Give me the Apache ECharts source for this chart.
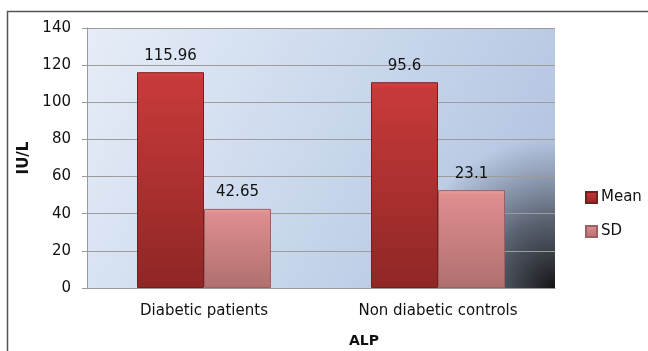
<!DOCTYPE html>
<html>
<head>
<meta charset="utf-8">
<script src="https://cdn.jsdelivr.net/npm/echarts@6/dist/echarts.min.js"></script>
<style>
html,body{margin:0;padding:0;background:#fff;}
#chart{width:648px;height:351px;}
</style>
</head>
<body>
<div id="chart"></div>
<script>
var categories = ['Diabetic patients', 'Non diabetic controls'];
var seriesNames = ['Mean', 'SD'];
var meanValues = [116.2, 110.8];
var sdValues = [42.6, 52.7];
var meanLabels = ['115.96', '95.6'];
var sdLabels = ['42.65', '23.1'];
var yTickMin = 0, yTickMax = 140, yTickStep = 20;
var yAxisTitle = 'IU/L';
var xAxisTitle = 'ALP';

var chart = echarts.init(document.getElementById('chart'), null, {renderer: 'canvas'});
var FONT = 'DejaVu Sans';
var gridL = 87, gridT = 28, gridR = 93, gridB = 63;
var W = 648, H = 351;

function labelFmt(arr) {
  return function (p) { return arr[p.dataIndex]; };
}

var option = {
  animation: false,
  textStyle: {fontFamily: FONT},
  grid: {left: gridL, top: gridT, right: gridR, bottom: gridB, containLabel: false},
  graphic: [
    {
      type: 'rect', z: -20,
      shape: {x: gridL, y: gridT, width: W - gridL - gridR, height: H - gridT - gridB},
      style: {fill: {type: 'linear', x: 0, y: 0, x2: 1, y2: 1, colorStops: [
        {offset: 0, color: '#e6edf7'}, {offset: 0.5, color: '#c9d7ec'}, {offset: 1, color: '#aebfdd'}]}}
    },
    {
      type: 'rect', z: -19,
      shape: {x: gridL, y: gridT, width: W - gridL - gridR, height: H - gridT - gridB},
      style: {fill: {type: 'radial', x: 1, y: 1, r: 0.58, colorStops: [
        {offset: 0, color: 'rgba(20,20,20,1)'}, {offset: 0.45, color: 'rgba(60,65,75,0.75)'},
        {offset: 1, color: 'rgba(80,90,110,0)'}]}}
    },
    {
      type: 'polyline', z: 10,
      shape: {points: [[7.5, H], [7.5, 11.5], [W, 11.5]]},
      style: {stroke: '#555', lineWidth: 1.5, fill: null}
    },
    {
      type: 'text', z: 10, x: 364, y: 341,
      style: {text: xAxisTitle, fontFamily: FONT, fontSize: 14, fontWeight: 'bold', fill: '#111',
        align: 'center', verticalAlign: 'middle'}
    }
  ],
  legend: {
    orient: 'vertical', left: 585, top: 190, padding: 0,
    itemWidth: 11, itemHeight: 11, itemGap: 19, icon: 'rect',
    textStyle: {fontFamily: FONT, fontSize: 15, color: '#111', padding: [0, 0, 0, -1]},
    data: seriesNames
  },
  xAxis: {
    type: 'category', data: categories,
    axisLine: {show: true, lineStyle: {color: '#9a9a9a', width: 1}},
    axisTick: {show: false},
    axisLabel: {fontFamily: FONT, fontSize: 15, color: '#111', margin: 16}
  },
  yAxis: {
    type: 'value', min: yTickMin, max: yTickMax, interval: yTickStep,
    name: yAxisTitle, nameLocation: 'middle', nameGap: 52,
    nameTextStyle: {fontFamily: FONT, fontSize: 15, fontWeight: 'bold', color: '#111'},
    axisLine: {show: true, lineStyle: {color: '#9a9a9a', width: 1}},
    axisTick: {show: true, inside: false, length: 5, lineStyle: {color: '#9a9a9a'}},
    axisLabel: {fontFamily: FONT, fontSize: 15, color: '#111', margin: 16},
    splitLine: {show: true, lineStyle: {color: '#9c9c9c', width: 1}}
  },
  series: [
    {
      name: seriesNames[0], type: 'bar', data: meanValues,
      barWidth: 67, barGap: '0%',
      itemStyle: {
        color: {type: 'linear', x: 0, y: 0, x2: 0, y2: 1, colorStops: [
          {offset: 0, color: '#d24343'}, {offset: 0.03, color: '#c83a3a'}, {offset: 1, color: '#8f2626'}]},
        borderColor: '#7a1d1d', borderWidth: 1
      },
      label: {show: true, position: 'top', distance: 9, formatter: labelFmt(meanLabels),
        fontFamily: FONT, fontSize: 15, color: '#111'}
    },
    {
      name: seriesNames[1], type: 'bar', data: sdValues,
      barWidth: 67, barGap: '0%',
      itemStyle: {
        color: {type: 'linear', x: 0, y: 0, x2: 0, y2: 1, colorStops: [
          {offset: 0, color: '#eaa3a3'}, {offset: 0.05, color: '#df8e8e'}, {offset: 1, color: '#b06f6f'}]},
        borderColor: '#9c6060', borderWidth: 1
      },
      label: {show: true, position: 'top', distance: 9, formatter: labelFmt(sdLabels),
        fontFamily: FONT, fontSize: 15, color: '#111'}
    }
  ]
};
chart.setOption(option);
</script>
</body>
</html>
